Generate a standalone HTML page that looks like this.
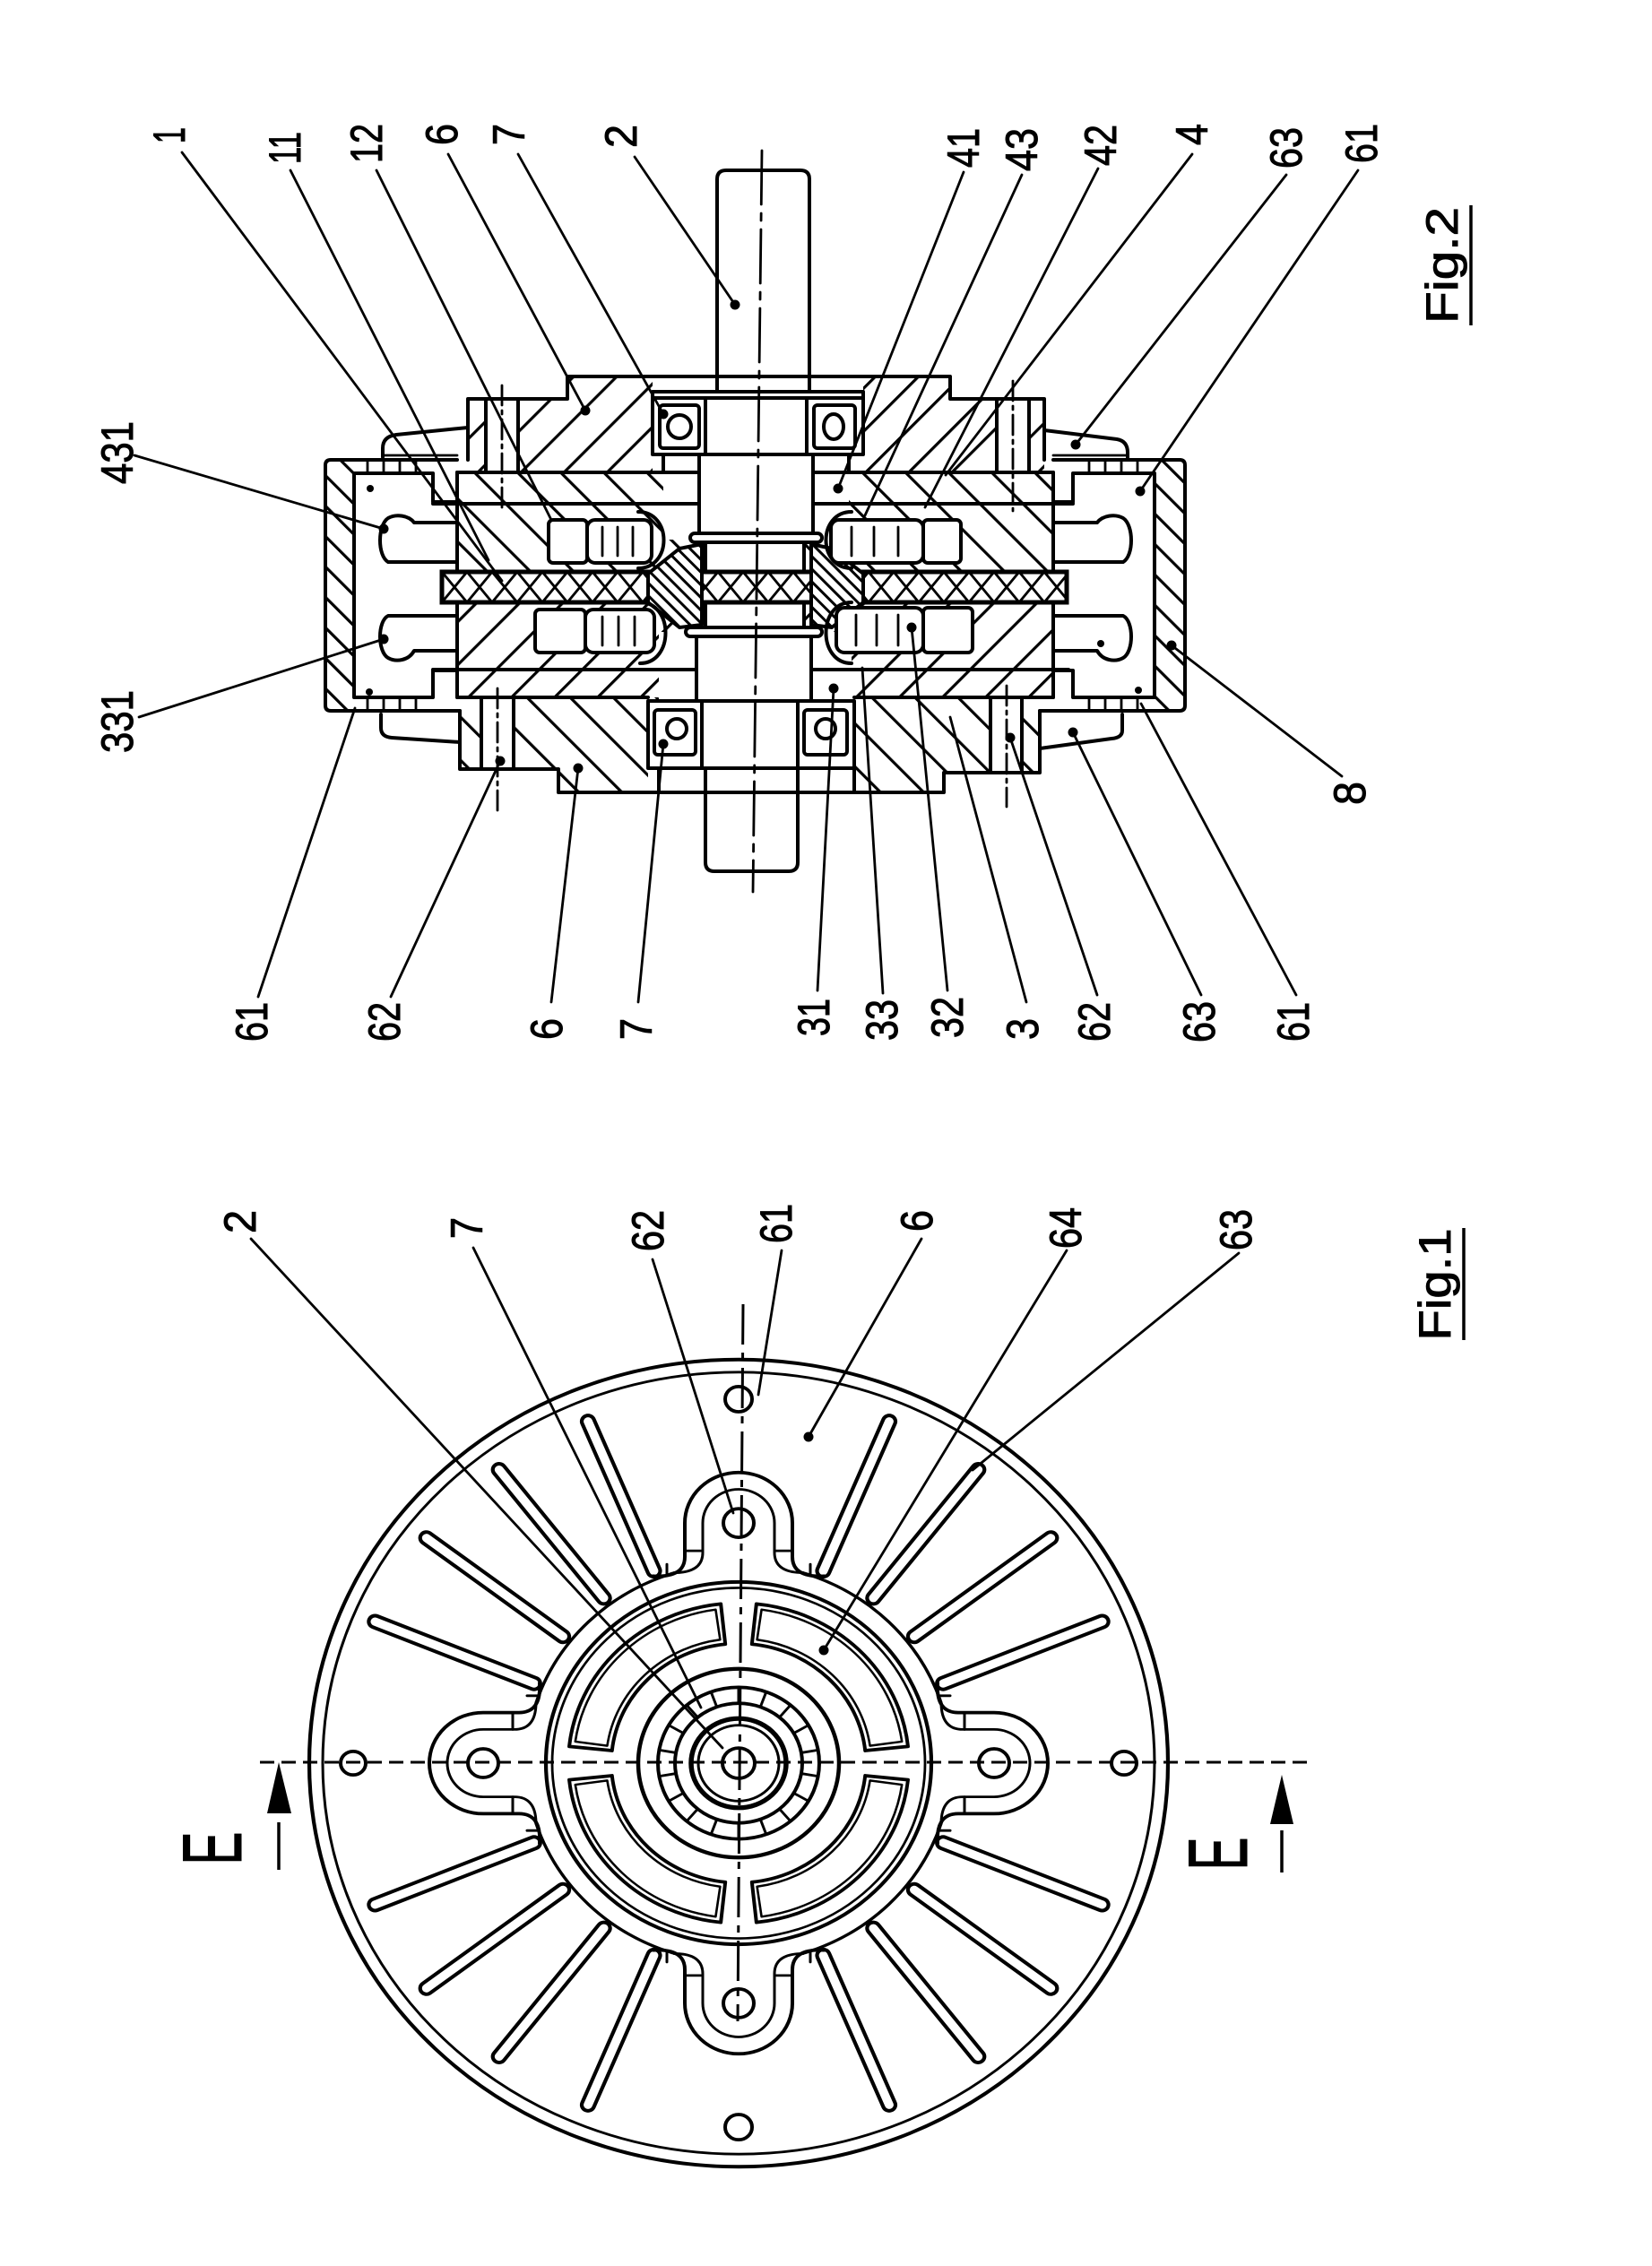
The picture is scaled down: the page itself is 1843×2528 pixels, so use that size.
<!DOCTYPE html>
<html><head><meta charset="utf-8">
<style>
html,body{margin:0;padding:0;background:#fff;width:1843px;height:2528px;overflow:hidden}
svg{display:block}
text{font-family:"Liberation Sans",sans-serif;fill:#000;stroke:#000;stroke-width:1.0}
</style></head><body>
<svg xmlns="http://www.w3.org/2000/svg" width="1843" height="2528" viewBox="0 0 1843 2528">
<defs>
<pattern id="hF" width="34" height="34" patternUnits="userSpaceOnUse" patternTransform="rotate(45)"><rect x="0" y="0" width="3.2" height="34" fill="#000"/></pattern>
<pattern id="hB" width="34" height="34" patternUnits="userSpaceOnUse" patternTransform="rotate(-45)"><rect x="0" y="0" width="3.2" height="34" fill="#000"/></pattern>
<pattern id="hW" width="24" height="24" patternUnits="userSpaceOnUse" patternTransform="rotate(-45)"><rect width="3.2" height="24" fill="#000"/></pattern>
<pattern id="hD" width="10" height="10" patternUnits="userSpaceOnUse" patternTransform="rotate(-45)"><rect width="3" height="10" fill="#000"/></pattern>
<pattern id="hX" x="493" y="638" width="28" height="34" patternUnits="userSpaceOnUse"><path d="M0 0L28 34M28 0L0 34" stroke="#000" stroke-width="2.8" fill="none"/></pattern>
</defs>

<!-- ================= FIG 2 ================= -->
<g>
<path d="M522 513V445H633V420H1060V445H1165V527H522Z" fill="url(#hF)"/>
<rect x="510" y="527" width="665" height="111" fill="url(#hB)"/>
<rect x="510" y="672" width="665" height="106" fill="url(#hF)"/>
<path d="M513 778H1160V862H1053V884H623V858H513Z" fill="url(#hB)"/>
<rect x="363" y="513" width="32" height="280" fill="url(#hW)"/>
<rect x="1288" y="513" width="34" height="280" fill="url(#hW)"/>
<g fill="#fff">
<rect x="728" y="418" width="235" height="110"/>
<rect x="740" y="527" width="207" height="75"/>
<rect x="542" y="445" width="36" height="82"/>
<rect x="1112" y="445" width="36" height="82"/>
<rect x="537" y="778" width="36" height="80"/>
<rect x="1105" y="778" width="35" height="84"/>
<rect x="735" y="705" width="215" height="80"/>
<rect x="723" y="780" width="230" height="106"/>
</g>

<g fill="none" stroke="#000" stroke-width="4" stroke-linejoin="round" stroke-linecap="round">
<path d="M510 513H369Q363 513 363 519V787Q363 793 369 793H513"/>
<path d="M1175 513H1316Q1322 513 1322 519V787Q1322 793 1316 793H1160"/>
<path d="M510 560H483V528H395V778H483V748H510"/>
<path d="M1175 560H1197V528H1288V778H1197V748H1175"/>
<path d="M410 513V528M428 513V528M446 513V528M464 513V528M410 778V793M428 778V793M446 778V793M464 778V793M1215 513V528M1233 513V528M1251 513V528M1269 513V528M1215 778V793M1233 778V793M1251 778V793M1269 778V793" stroke-width="2.8"/>
<path d="M510 527V778M1175 527V778"/>
<path d="M510 527H780M907 527H1175"/>
<path d="M483 562H780M907 562H1197"/>
<path d="M483 747H777M905 747H1192"/>
<path d="M510 778H723M953 778H1175"/>
<path d="M522 513V445H633V420H1060V445H1165V513"/>
<path d="M522 477L442 485Q427 487 427 500V510"/>
<path d="M1165 480L1246 490Q1258 492 1258 505V513"/>
<path d="M427 508H510M1175 508H1258" stroke-width="2.8"/>
<path d="M542 445V527M578 445V527M1112 445V527M1148 445V527"/>
<path d="M513 793V858H623V884H1053V862H1160V793"/>
<path d="M425 797V812Q425 822 437 823L513 828"/>
<path d="M1252 797V815Q1252 823 1240 824L1160 835"/>
<path d="M537 778V858M573 778V858M1105 778V862M1140 778V862"/>
<path d="M560 430V570M1130 425V570M555 768V905M1123 765V900" stroke-width="2.8" stroke-dasharray="22 6 4 6"/>
<rect x="728" y="437" width="235" height="70" fill="#fff"/>
<path d="M728 444H963"/>
<path d="M787 444V507M900 444V507"/>
<rect x="736" y="452" width="44" height="48" rx="4"/>
<circle cx="758" cy="476" r="13"/>
<rect x="908" y="452" width="46" height="48" rx="4"/>
<ellipse cx="930" cy="476" rx="11" ry="14"/>
<path d="M740 507V527M947 507V527"/>
<path d="M800 437V200Q800 190 810 190H893Q903 190 903 200V437"/>
<path d="M780 507V597M907 507V597"/>
<path d="M777 710V782M905 710V782"/>
<path d="M787 857V962Q787 972 797 972H880Q890 972 890 962V857"/>
<rect x="770" y="595" width="147" height="10" rx="5" fill="#fff"/>
<rect x="787" y="605" width="110" height="95" fill="#fff"/>
<rect x="765" y="700" width="152" height="10" rx="5" fill="#fff"/>
<rect x="723" y="782" width="230" height="75" fill="#fff"/>
<path d="M783 782V857M890 782V857"/>
<rect x="730" y="792" width="46" height="50" rx="4"/>
<circle cx="755" cy="813" r="11"/>
<rect x="897" y="792" width="48" height="50" rx="4"/>
<circle cx="921" cy="813" r="11"/>
<path d="M735 857V884M953 857V884"/>
</g>

<rect x="493" y="638" width="697" height="34" fill="#fff"/>
<rect x="493" y="638" width="697" height="34" fill="url(#hX)" stroke="#000" stroke-width="5"/>
<path d="M783 607L758 612L723 640V672L758 700L783 697Z" fill="#fff"/>
<path d="M783 607L758 612L723 640V672L758 700L783 697Z" fill="url(#hD)" stroke="#000" stroke-width="4" stroke-linejoin="round"/>
<path d="M905 607L928 612L963 640V672L928 700L905 697Z" fill="#fff"/>
<path d="M905 607L928 612L963 640V672L928 700L905 697Z" fill="url(#hD)" stroke="#000" stroke-width="4" stroke-linejoin="round"/>

<g fill="#fff" stroke="#000" stroke-width="4" stroke-linejoin="round" stroke-linecap="round">
<rect x="612" y="580" width="43" height="48" rx="5"/>
<rect x="655" y="580" width="72" height="48" rx="9"/>
<rect x="927" y="580" width="103" height="48" rx="9"/>
<rect x="1030" y="580" width="42" height="48" rx="5"/>
<rect x="597" y="680" width="56" height="48" rx="5"/>
<rect x="653" y="680" width="77" height="48" rx="9"/>
<rect x="933" y="678" width="97" height="50" rx="9"/>
<rect x="1030" y="678" width="55" height="50" rx="5"/>
</g>
<g fill="none" stroke="#000" stroke-width="4" stroke-linejoin="round" stroke-linecap="round">
<path d="M672 588V620M689 588V620M706 588V620M950 588V620M975 588V620M1002 588V620M672 688V720M690 688V720M708 688V720M955 686V720M978 686V720M1002 686V720" stroke-width="2.8"/>
<path d="M712 571C750 571 750 634 712 634"/>
<path d="M950 571C912 571 912 634 950 634"/>
<path d="M714 672C752 672 752 740 714 740"/>
<path d="M950 672C912 672 912 740 950 740"/>
<path d="M510 583H462C456 575 442 573 433 578C421 586 421 620 433 627H510"/>
<path d="M510 687H433C421 693 421 727 433 734C442 739 456 737 462 726H510"/>
<path d="M1175 583H1224C1230 575 1244 573 1253 578C1265 586 1265 620 1253 627H1175"/>
<path d="M1175 687H1253C1265 693 1265 727 1253 734C1244 739 1230 737 1224 726H1175"/>
<path d="M850 168L840 995" stroke-width="2.8" stroke-dasharray="60 10 8 10"/>
</g>

<g fill="none" stroke="#000" stroke-width="2.8" stroke-linecap="round">
<path d="M150 508L428 590"/>
<path d="M203 170L560 648"/>
<path d="M324 190L545 625"/>
<path d="M420 190L615 580"/>
<path d="M500 172L653 458"/>
<path d="M578 172L740 462"/>
<path d="M708 175L820 340"/>
<path d="M1075 192L935 545"/>
<path d="M1140 195L965 575"/>
<path d="M1225 188L1032 566"/>
<path d="M1330 172L1055 530"/>
<path d="M1435 195L1200 496"/>
<path d="M1515 190L1272 548"/>
<path d="M155 800L428 713"/>
<path d="M288 1112L396 790"/>
<path d="M436 1112L558 849"/>
<path d="M615 1118L645 857"/>
<path d="M712 1118L740 830"/>
<path d="M912 1105L930 768"/>
<path d="M985 1108L962 745"/>
<path d="M1057 1105L1017 700"/>
<path d="M1145 1118L1060 800"/>
<path d="M1224 1110L1127 823"/>
<path d="M1340 1110L1197 817"/>
<path d="M1446 1110L1273 785"/>
<path d="M1497 866L1307 720"/>
</g>
<g fill="#000">
<circle cx="428" cy="590" r="5.5"/><circle cx="653" cy="458" r="5.5"/><circle cx="740" cy="462" r="5.5"/>
<circle cx="820" cy="340" r="5.5"/><circle cx="935" cy="545" r="5.5"/><circle cx="1200" cy="496" r="5.5"/>
<circle cx="1272" cy="548" r="5.5"/><circle cx="428" cy="713" r="5.5"/><circle cx="558" cy="849" r="5.5"/>
<circle cx="645" cy="857" r="5.5"/><circle cx="740" cy="830" r="5.5"/><circle cx="930" cy="768" r="5.5"/>
<circle cx="1017" cy="700" r="5.5"/><circle cx="1127" cy="823" r="5.5"/><circle cx="1197" cy="817" r="5.5"/>
<circle cx="1307" cy="720" r="5.5"/><circle cx="1228" cy="718" r="4"/>
<circle cx="413" cy="545" r="4"/><circle cx="412" cy="772" r="4"/><circle cx="1270" cy="770" r="4"/>
</g>

<g font-size="50" text-anchor="middle">
<text transform="translate(148 505) rotate(-90)" textLength="70" lengthAdjust="spacingAndGlyphs">431</text>
<text transform="translate(206 151) rotate(-90)" textLength="18" lengthAdjust="spacingAndGlyphs">1</text>
<text transform="translate(335 165) rotate(-90)" textLength="36" lengthAdjust="spacingAndGlyphs">11</text>
<text transform="translate(426 160) rotate(-90)" textLength="44" lengthAdjust="spacingAndGlyphs">12</text>
<text transform="translate(510 150) rotate(-90)" textLength="24" lengthAdjust="spacingAndGlyphs">6</text>
<text transform="translate(585 150) rotate(-90)" textLength="24" lengthAdjust="spacingAndGlyphs">7</text>
<text transform="translate(710 152) rotate(-90)" textLength="26" lengthAdjust="spacingAndGlyphs">2</text>
<text transform="translate(1092 165) rotate(-90)" textLength="44" lengthAdjust="spacingAndGlyphs">41</text>
<text transform="translate(1157 167) rotate(-90)" textLength="48" lengthAdjust="spacingAndGlyphs">43</text>
<text transform="translate(1245 162) rotate(-90)" textLength="46" lengthAdjust="spacingAndGlyphs">42</text>
<text transform="translate(1347 150) rotate(-90)" textLength="24" lengthAdjust="spacingAndGlyphs">4</text>
<text transform="translate(1452 165) rotate(-90)" textLength="46" lengthAdjust="spacingAndGlyphs">63</text>
<text transform="translate(1536 160) rotate(-90)" textLength="44" lengthAdjust="spacingAndGlyphs">61</text>
<text transform="translate(1626 296) rotate(-90)" textLength="130" lengthAdjust="spacingAndGlyphs">Fig.2</text>

<text transform="translate(148 805) rotate(-90)" textLength="70" lengthAdjust="spacingAndGlyphs">331</text>
<text transform="translate(298 1140) rotate(-90)" textLength="44" lengthAdjust="spacingAndGlyphs">61</text>
<text transform="translate(446 1140) rotate(-90)" textLength="44" lengthAdjust="spacingAndGlyphs">62</text>
<text transform="translate(627 1148) rotate(-90)" textLength="24" lengthAdjust="spacingAndGlyphs">6</text>
<text transform="translate(727 1148) rotate(-90)" textLength="24" lengthAdjust="spacingAndGlyphs">7</text>
<text transform="translate(925 1135) rotate(-90)" textLength="42" lengthAdjust="spacingAndGlyphs">31</text>
<text transform="translate(1001 1138) rotate(-90)" textLength="46" lengthAdjust="spacingAndGlyphs">33</text>
<text transform="translate(1074 1135) rotate(-90)" textLength="46" lengthAdjust="spacingAndGlyphs">32</text>
<text transform="translate(1158 1148) rotate(-90)" textLength="24" lengthAdjust="spacingAndGlyphs">3</text>
<text transform="translate(1238 1140) rotate(-90)" textLength="44" lengthAdjust="spacingAndGlyphs">62</text>
<text transform="translate(1355 1140) rotate(-90)" textLength="46" lengthAdjust="spacingAndGlyphs">63</text>
<text transform="translate(1460 1140) rotate(-90)" textLength="44" lengthAdjust="spacingAndGlyphs">61</text>
<text transform="translate(1523 885) rotate(-90)" textLength="26" lengthAdjust="spacingAndGlyphs">8</text>
</g>
<line x1="1641" y1="229" x2="1641" y2="363" stroke="#000" stroke-width="3.5"/>
</g>

<!-- ================= FIG 1 ================= -->
<g transform="translate(824 1967) scale(1 0.94)" fill="none" stroke="#000" stroke-width="4" stroke-linejoin="round" stroke-linecap="round">
<circle r="479" stroke-width="4.2"/>
<circle r="464" stroke-width="3"/>
<g fill="#fff" stroke-width="4.2">
<rect x="240" y="-7" width="206" height="14" rx="7" transform="rotate(22.5)"/>
<rect x="240" y="-7" width="206" height="14" rx="7" transform="rotate(37.5)"/>
<rect x="240" y="-7" width="206" height="14" rx="7" transform="rotate(52.5)"/>
<rect x="240" y="-7" width="206" height="14" rx="7" transform="rotate(67.5)"/>
<rect x="240" y="-7" width="206" height="14" rx="7" transform="rotate(112.5)"/>
<rect x="240" y="-7" width="206" height="14" rx="7" transform="rotate(127.5)"/>
<rect x="240" y="-7" width="206" height="14" rx="7" transform="rotate(142.5)"/>
<rect x="240" y="-7" width="206" height="14" rx="7" transform="rotate(157.5)"/>
<rect x="240" y="-7" width="206" height="14" rx="7" transform="rotate(202.5)"/>
<rect x="240" y="-7" width="206" height="14" rx="7" transform="rotate(217.5)"/>
<rect x="240" y="-7" width="206" height="14" rx="7" transform="rotate(232.5)"/>
<rect x="240" y="-7" width="206" height="14" rx="7" transform="rotate(247.5)"/>
<rect x="240" y="-7" width="206" height="14" rx="7" transform="rotate(292.5)"/>
<rect x="240" y="-7" width="206" height="14" rx="7" transform="rotate(307.5)"/>
<rect x="240" y="-7" width="206" height="14" rx="7" transform="rotate(322.5)"/>
<rect x="240" y="-7" width="206" height="14" rx="7" transform="rotate(337.5)"/>
</g>
<circle r="237" stroke-width="3.5"/>
<g>
<path d="M-95 -222Q-60 -220 -60 -245V-285A60 60 0 0 1 60 -285V-245Q60 -220 95 -222Z" fill="#fff" stroke="none"/>
<path d="M-95 -222Q-60 -220 -60 -245V-285A60 60 0 0 1 60 -285V-245Q60 -220 95 -222"/>
<path d="M-72 -226Q-40 -226 -40 -250V-285A40 40 0 0 1 40 -285V-250Q40 -226 72 -226" stroke-width="3"/>
<path d="M-60 -252H-40M40 -252H60M-80 -224V-236M80 -224V-236" stroke-width="3"/>
<circle cy="-285" r="17"/>
</g>
<g transform="rotate(90)">
<path d="M-95 -222Q-60 -220 -60 -245V-285A60 60 0 0 1 60 -285V-245Q60 -220 95 -222Z" fill="#fff" stroke="none"/>
<path d="M-95 -222Q-60 -220 -60 -245V-285A60 60 0 0 1 60 -285V-245Q60 -220 95 -222"/>
<path d="M-72 -226Q-40 -226 -40 -250V-285A40 40 0 0 1 40 -285V-250Q40 -226 72 -226" stroke-width="3"/>
<path d="M-60 -252H-40M40 -252H60M-80 -224V-236M80 -224V-236" stroke-width="3"/>
<circle cy="-285" r="17"/>
</g>
<g transform="rotate(180)">
<path d="M-95 -222Q-60 -220 -60 -245V-285A60 60 0 0 1 60 -285V-245Q60 -220 95 -222Z" fill="#fff" stroke="none"/>
<path d="M-95 -222Q-60 -220 -60 -245V-285A60 60 0 0 1 60 -285V-245Q60 -220 95 -222"/>
<path d="M-72 -226Q-40 -226 -40 -250V-285A40 40 0 0 1 40 -285V-250Q40 -226 72 -226" stroke-width="3"/>
<path d="M-60 -252H-40M40 -252H60M-80 -224V-236M80 -224V-236" stroke-width="3"/>
<circle cy="-285" r="17"/>
</g>
<g transform="rotate(270)">
<path d="M-95 -222Q-60 -220 -60 -245V-285A60 60 0 0 1 60 -285V-245Q60 -220 95 -222Z" fill="#fff" stroke="none"/>
<path d="M-95 -222Q-60 -220 -60 -245V-285A60 60 0 0 1 60 -285V-245Q60 -220 95 -222"/>
<path d="M-72 -226Q-40 -226 -40 -250V-285A40 40 0 0 1 40 -285V-250Q40 -226 72 -226" stroke-width="3"/>
<path d="M-60 -252H-40M40 -252H60M-80 -224V-236M80 -224V-236" stroke-width="3"/>
<circle cy="-285" r="17"/>
</g>
<circle r="215" fill="#fff" stroke-width="4.2"/>
<circle r="208" stroke-width="2.8"/>
<g>
<path d="M141.22 14.84L188.96 19.86A190 190 0 0 1 19.86 188.96L14.84 141.22A142 142 0 0 0 141.22 14.84Z"/>
<path d="M146.56 20.6L182.21 25.61A184 184 0 0 1 25.61 182.21L20.6 146.56A148 148 0 0 0 146.56 20.6Z" stroke-width="2.6"/>
</g>
<g transform="rotate(90)">
<path d="M141.22 14.84L188.96 19.86A190 190 0 0 1 19.86 188.96L14.84 141.22A142 142 0 0 0 141.22 14.84Z"/>
<path d="M146.56 20.6L182.21 25.61A184 184 0 0 1 25.61 182.21L20.6 146.56A148 148 0 0 0 146.56 20.6Z" stroke-width="2.6"/>
</g>
<g transform="rotate(180)">
<path d="M141.22 14.84L188.96 19.86A190 190 0 0 1 19.86 188.96L14.84 141.22A142 142 0 0 0 141.22 14.84Z"/>
<path d="M146.56 20.6L182.21 25.61A184 184 0 0 1 25.61 182.21L20.6 146.56A148 148 0 0 0 146.56 20.6Z" stroke-width="2.6"/>
</g>
<g transform="rotate(270)">
<path d="M141.22 14.84L188.96 19.86A190 190 0 0 1 19.86 188.96L14.84 141.22A142 142 0 0 0 141.22 14.84Z"/>
<path d="M146.56 20.6L182.21 25.61A184 184 0 0 1 25.61 182.21L20.6 146.56A148 148 0 0 0 146.56 20.6Z" stroke-width="2.6"/>
</g>
<circle r="112" stroke-width="4.5"/>
<circle r="90"/>
<circle r="71"/>
<path d="M69.9 12.3L88.6 15.6M61.5 35.5L77.9 45M45.6 54.4L57.9 68.9M24.3 66.7L30.8 84.6M0 71L0 90M-24.3 66.7L-30.8 84.6M-45.6 54.4L-57.9 68.9M-61.5 35.5L-77.9 45M-69.9 12.3L-88.6 15.6M-69.9 -12.3L-88.6 -15.6M-61.5 -35.5L-77.9 -45M-45.6 -54.4L-57.9 -68.9M-24.3 -66.7L-30.8 -84.6M0 -71L0 -90M24.3 -66.7L30.8 -84.6M45.6 -54.4L57.9 -68.9M61.5 -35.5L77.9 -45M69.9 -12.3L88.6 -15.6" stroke-width="3"/>
<circle r="53" stroke-width="5.5"/>
<circle r="45" stroke-width="3"/>
<circle r="18"/>
<circle cx="-430" r="14"/>
<circle cx="430" r="14"/>
<circle cy="-432" r="15"/>
<circle cy="432" r="15"/>
</g>

<path d="M290 1966H1458" stroke="#000" stroke-width="3" stroke-dasharray="16 8"/>
<path d="M829 1455L823 2255" stroke="#000" stroke-width="3" stroke-dasharray="45 9 8 9"/>

<path d="M311 1966L298 2023H325Z" fill="#000"/>
<line x1="311" y1="2033" x2="311" y2="2086" stroke="#000" stroke-width="3.5"/>
<path d="M1430 1980L1417 2035H1443Z" fill="#000"/>
<line x1="1430" y1="2042" x2="1430" y2="2089" stroke="#000" stroke-width="3.5"/>

<g fill="none" stroke="#000" stroke-width="2.8" stroke-linecap="round">
<path d="M280 1382L806 1950"/>
<path d="M528 1392L782 1905"/>
<path d="M728 1405L818 1688"/>
<path d="M872 1395L846 1556"/>
<path d="M1028 1382L902 1603"/>
<path d="M1190 1395L919 1841"/>
<path d="M1382 1398L1085 1640"/>
</g>
<circle cx="902" cy="1603" r="5.5"/>
<circle cx="919" cy="1841" r="5.5"/>

<g font-size="50" text-anchor="middle">
<text transform="translate(285 1363) rotate(-90)" textLength="26" lengthAdjust="spacingAndGlyphs">2</text>
<text transform="translate(538 1370) rotate(-90)" textLength="24" lengthAdjust="spacingAndGlyphs">7</text>
<text transform="translate(740 1373) rotate(-90)" textLength="46" lengthAdjust="spacingAndGlyphs">62</text>
<text transform="translate(883 1365) rotate(-90)" textLength="44" lengthAdjust="spacingAndGlyphs">61</text>
<text transform="translate(1040 1362) rotate(-90)" textLength="24" lengthAdjust="spacingAndGlyphs">6</text>
<text transform="translate(1206 1370) rotate(-90)" textLength="46" lengthAdjust="spacingAndGlyphs">64</text>
<text transform="translate(1396 1372) rotate(-90)" textLength="46" lengthAdjust="spacingAndGlyphs">63</text>
<text transform="translate(1618 1433) rotate(-90)" textLength="125" lengthAdjust="spacingAndGlyphs">Fig.1</text>
</g>
<line x1="1633" y1="1370" x2="1633" y2="1495" stroke="#000" stroke-width="3.5"/>
<g font-size="94" text-anchor="middle" style="stroke-width:1.6">
<text transform="translate(269 2062) rotate(-90)" textLength="37" lengthAdjust="spacingAndGlyphs">E</text>
<text transform="translate(1391 2068) rotate(-90)" textLength="37" lengthAdjust="spacingAndGlyphs">E</text>
</g>
</svg>
</body></html>
